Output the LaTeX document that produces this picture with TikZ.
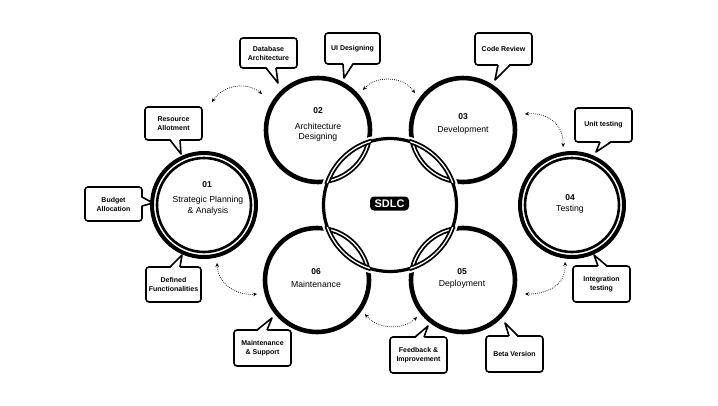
\documentclass[tikz,border=0pt]{standalone}
\usepackage{fontspec}
\setmainfont{Liberation Sans}
\usetikzlibrary{arrows.meta}
\begin{document}
\begin{tikzpicture}[x=1pt,y=-1pt,
  bigring/.style={line width=4.6pt},
  corering/.style={line width=3.2pt},
  lensline/.style={double=white, double distance=1.3pt, line width=1.8pt},
  outerring/.style={line width=4pt},
  innerring/.style={line width=2.6pt},
  cnum/.style={font=\fontsize{8.5}{10}\selectfont\bfseries, inner sep=0pt},
  cname/.style={font=\fontsize{8.7}{10.5}\selectfont, align=center, inner sep=0pt},
  callout/.style={draw, line width=1.6pt, rounded corners=3pt, fill=white, align=center, font=\fontsize{7}{9}\selectfont\bfseries, inner sep=1pt},
  ptr/.style={line width=1.6pt, line join=round},
  flow/.style={line width=0.75pt, dash pattern=on 0.75pt off 1.25pt, {Stealth[length=4pt,width=3.6pt]}-{Stealth[length=4pt,width=3.6pt]}}
]
\useasboundingbox (0,0) rectangle (718,405);
\fill[white] (0,0) rectangle (718,405);

% centres
\coordinate (c01) at (204,205);
\coordinate (c02) at (318,130);
\coordinate (c03) at (463,130);
\coordinate (c04) at (572,205);
\coordinate (c05) at (463,280);
\coordinate (c06) at (317,280);
\coordinate (cc) at (390,205);

% interlocking rings
\foreach \c in {c02,c03,c05,c06} \draw[bigring] (\c) circle[radius=52pt];
\fill[white] (cc) circle[radius=71pt];
\draw[corering] (cc) circle[radius=66.5pt];
\foreach \c in {c02,c03,c05,c06}{
  \begin{scope}\clip (cc) circle[radius=68.5pt]; \draw[lensline] (\c) circle[radius=52pt]; \end{scope}
  \begin{scope}\clip (\c) circle[radius=54pt]; \draw[lensline] (cc) circle[radius=66.5pt]; \end{scope}
}

% double rings
\foreach \c in {c01,c04}{
  \draw[outerring] (\c) circle[radius=52pt];
  \draw[innerring] (\c) circle[radius=47pt];
}

% circle texts
\node[cnum] (n01) at (207,185) {01};
\node[cname] (t01) at (208,205.5) {Strategic Planning\\\& Analysis};
\node[cnum] (n02) at (318,111) {02};
\node[cname] (t02) at (318,132) {Architecture\\Designing};
\node[cnum] (n03) at (463,117) {03};
\node[cname] (t03) at (463,130) {Development};
\node[cnum] (n04) at (570,198) {04};
\node[cname] (t04) at (570,209) {Testing};
\node[cnum] (n05) at (462,272) {05};
\node[cname] (t05) at (462,284) {Deployment};
\node[cnum] (n06) at (316,272) {06};
\node[cname] (t06) at (316,284) {Maintenance};

\node[fill=black, text=white, rounded corners=4pt, font=\fontsize{11}{12}\selectfont\bfseries,
      minimum width=39pt, minimum height=14pt, inner sep=0pt] (sdlc) at (389.5,203.5) {SDLC};

% dotted flow arrows
\coordinate (a1s) at (212,102); \coordinate (a1e) at (262,94);
\coordinate (a2s) at (363,90);  \coordinate (a2e) at (415,93);
\coordinate (a3s) at (525,114); \coordinate (a3e) at (563,147);
\coordinate (a4s) at (565,262); \coordinate (a4e) at (525,294);
\coordinate (a5s) at (365,314); \coordinate (a5e) at (417,317);
\coordinate (a6s) at (217,263); \coordinate (a6e) at (257,294);
\draw[flow] (a1s) .. controls (224,84) and (248,82) .. (a1e);
\draw[flow] (a2s) .. controls (375,76) and (402,75) .. (a2e);
\draw[flow] (a3s) .. controls (548,112) and (564,125) .. (a3e);
\draw[flow] (a4s) .. controls (566,285) and (548,294) .. (a4e);
\draw[flow] (a5s) .. controls (378,330) and (404,330) .. (a5e);
\draw[flow] (a6s) .. controls (218,285) and (238,296) .. (a6e);

% callouts
\node[callout, minimum width=57pt, minimum height=30pt] (db) at (268.5,53) {Database\\Architecture};
\fill[white] (266,66.4) -- (278,83) -- (276,66.4) -- cycle;
\draw[ptr] (266,68) -- (278,83) -- (276,68);

\node[callout, minimum width=55pt, minimum height=31pt] (ui) at (352.5,48.5) {UI Designing};
\fill[white] (343,62.4) -- (344,78) -- (353,62.4) -- cycle;
\draw[ptr] (343,64) -- (344,78) -- (353,64);

\node[callout, minimum width=57pt, minimum height=32pt] (cr) at (503.5,49) {Code Review};
\fill[white] (498,63.4) -- (495,80) -- (510,63.4) -- cycle;
\draw[ptr] (498,65) -- (495,80) -- (510,65);

\node[callout, minimum width=57pt, minimum height=33pt] (ra) at (173.5,123.5) {Resource\\Allotment};
\fill[white] (170,138.4) -- (181,154) -- (180,138.4) -- cycle;
\draw[ptr] (170,140) -- (181,154) -- (180,140);

\node[callout, minimum width=57pt, minimum height=34pt] (ut) at (603.5,125) {Unit testing};
\fill[white] (600,140.4) -- (596,152) -- (611,140.4) -- cycle;
\draw[ptr] (600,142) -- (596,152) -- (611,142);

\node[callout, minimum width=57pt, minimum height=34pt] (ba) at (113.5,204) {Budget\\Allocation};
\fill[white] (140.4,197) -- (153,203) -- (140.4,206) -- cycle;
\draw[ptr] (142,197) -- (153,203) -- (142,206);

\node[callout, minimum width=55pt, minimum height=35pt] (df) at (173.5,284.5) {Defined\\Functionalities};
\fill[white] (170,268.6) -- (182,255) -- (180,268.6) -- cycle;
\draw[ptr] (170,267) -- (182,255) -- (180,267);

\node[callout, minimum width=57pt, minimum height=36pt] (it) at (601.5,284) {Integration\\testing};
\fill[white] (598,267.6) -- (594,255) -- (607,267.6) -- cycle;
\draw[ptr] (598,266) -- (594,255) -- (607,266);

\node[callout, minimum width=57pt, minimum height=36pt] (ms) at (262.5,348) {Maintenance\\\& Support};
\fill[white] (257,331.6) -- (272,318) -- (267,331.6) -- cycle;
\draw[ptr] (257,330) -- (272,318) -- (267,330);

\node[callout, minimum width=57pt, minimum height=36pt] (fi) at (418.5,355) {Feedback \&\\Improvement};
\fill[white] (415,338.6) -- (428,326) -- (424,338.6) -- cycle;
\draw[ptr] (415,337) -- (428,326) -- (424,337);

\node[callout, minimum width=57pt, minimum height=36pt] (bv) at (514.5,354) {Beta Version};
\fill[white] (509,337.6) -- (505,323) -- (518,337.6) -- cycle;
\draw[ptr] (509,336) -- (505,323) -- (518,336);

\end{tikzpicture}
\end{document}
